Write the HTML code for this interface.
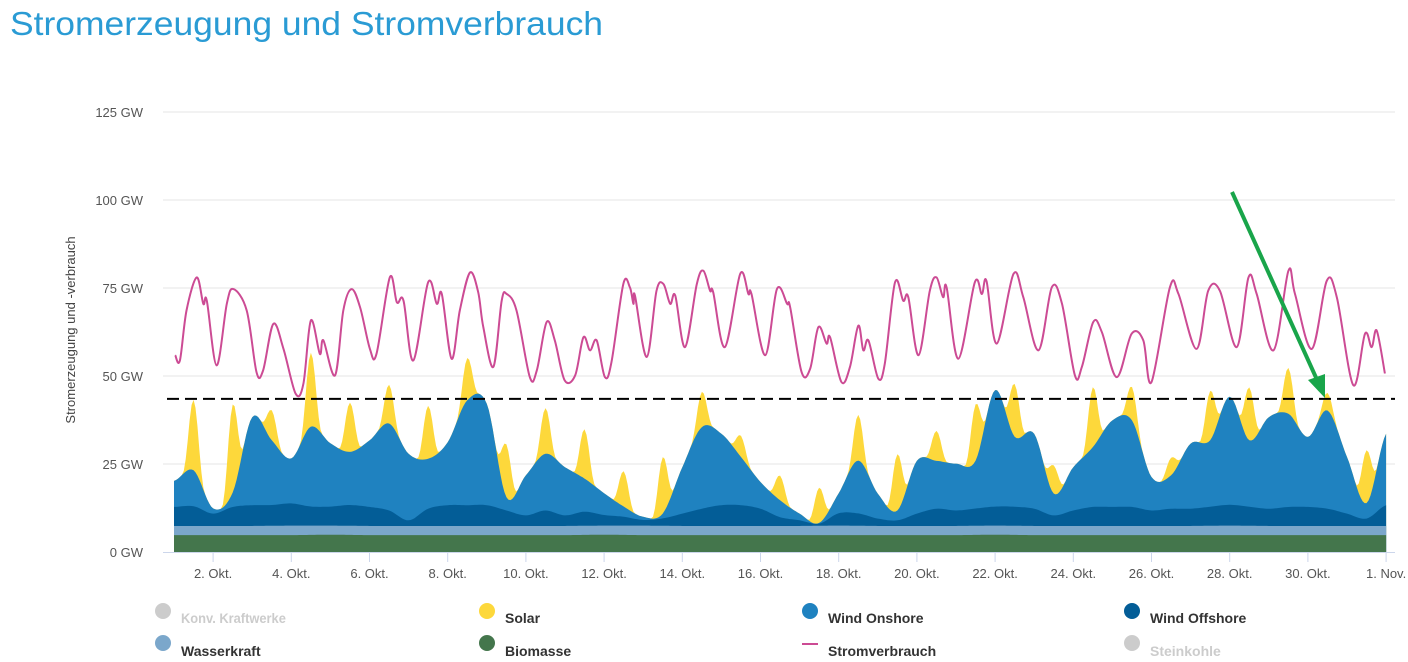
<!DOCTYPE html>
<html><head><meta charset="utf-8"><style>
html,body{margin:0;padding:0;background:#fff;}
svg{display:block;font-family:"Liberation Sans",Arial,sans-serif;}
</style></head><body>
<svg id="c" width="1408" height="662" viewBox="0 0 1408 662">
<text x="10" y="35" font-size="33" fill="#2a9bd4" textLength="593" lengthAdjust="spacingAndGlyphs">Stromerzeugung und Stromverbrauch</text>
<g id="grid"></g>
<g id="areas"></g>
<g id="lines"></g>
<g id="axes"></g>
<text transform="translate(75,330) rotate(-90)" text-anchor="middle" font-size="13" fill="#444">Stromerzeugung und -verbrauch</text>
<g>
<line x1="1232" y1="192" x2="1318" y2="382" stroke="#19a54a" stroke-width="4"/>
<polygon points="1325,398 1308,380 1325,374" fill="#19a54a"/>
</g>
<g id="legend">
<g><circle cx="163" cy="611" r="8" fill="#cccccc"/><text x="181" y="623" font-size="14" font-weight="bold" fill="#cccccc" transform="translate(181,0) scale(0.92,1) translate(-181,0)">Konv. Kraftwerke</text></g>
<g><circle cx="487" cy="611" r="8" fill="#fdd83b"/><text x="505" y="623" font-size="14" font-weight="bold" fill="#333">Solar</text></g>
<g><circle cx="810" cy="611" r="8" fill="#1f82c0"/><text x="828" y="623" font-size="14" font-weight="bold" fill="#333">Wind Onshore</text></g>
<g><circle cx="1132" cy="611" r="8" fill="#035d97"/><text x="1150" y="623" font-size="14" font-weight="bold" fill="#333">Wind Offshore</text></g>
<g><circle cx="163" cy="643" r="8" fill="#7ba7cb"/><text x="181" y="656" font-size="14" font-weight="bold" fill="#333">Wasserkraft</text></g>
<g><circle cx="487" cy="643" r="8" fill="#44764c"/><text x="505" y="656" font-size="14" font-weight="bold" fill="#333">Biomasse</text></g>
<g><line x1="802" y1="644" x2="818" y2="644" stroke="#cc4b94" stroke-width="2"/><text x="828" y="656" font-size="14" font-weight="bold" fill="#333">Stromverbrauch</text></g>
<g><circle cx="1132" cy="643" r="8" fill="#cccccc"/><text x="1150" y="656" font-size="14" font-weight="bold" fill="#cccccc">Steinkohle</text></g>
</g>
</svg>
<script>
// y ticks
const yTicks = [0, 25, 50, 75, 100, 125];
const yTickLabels = ["0 GW", "25 GW", "50 GW", "75 GW", "100 GW", "125 GW"];
// x ticks (day offsets from 1 Oct 00:00)
const xTicks = [1, 3, 5, 7, 9, 11, 13, 15, 17, 19, 21, 23, 25, 27, 29, 31];
const xTickLabels = ["2. Okt.", "4. Okt.", "6. Okt.", "8. Okt.", "10. Okt.", "12. Okt.", "14. Okt.", "16. Okt.", "18. Okt.", "20. Okt.", "22. Okt.", "24. Okt.", "26. Okt.", "28. Okt.", "30. Okt.", "1. Nov."];
const thresholdGW = 43.5;
// daily values (32 points, day 0..31)
const biomass = [4.8,4.8,4.8,4.8,4.9,4.8,4.8,4.8,4.8,4.8,4.8,4.9,4.8,4.8,4.8,4.8,4.8,4.8,4.8,4.8,4.8,4.9,4.8,4.8,4.8,4.8,4.8,4.8,4.8,4.8,4.8,4.8];
const water = [2.6,2.6,2.6,2.7,2.6,2.6,2.6,2.6,2.6,2.6,2.6,2.6,2.7,2.6,2.6,2.6,2.6,2.7,2.6,2.6,2.6,2.6,2.6,2.6,2.6,2.6,2.6,2.7,2.6,2.6,2.6,2.6];
// half-day values (63 points, t = 0, 0.5, ..., 31)
const windOffshore = [5.4,5.6,3.5,5.4,5.9,5.9,6.3,5.4,5.4,5.9,5.4,4.4,1.6,4.9,5.9,5.9,5.9,4.4,3.0,4.4,3.0,4.0,
 3.0,2.5,1.6,2.1,3.5,4.9,5.9,5.9,4.9,2.5,1.6,0.6,3.5,3.5,2.1,1.6,3.5,4.9,4.4,4.9,5.4,
 5.4,4.9,3.0,4.4,5.4,5.4,5.4,4.4,4.9,4.9,5.4,5.9,5.4,4.9,5.4,5.4,4.9,3.5,2.1,5.9];
const windOnshore = [7.4,10.2,1.5,4.1,25,18.4,12.8,22.7,18,15.1,18.9,24.7,18.9,14.2,17.9,29.8,28.8,3.8,11.4,16.1,13.7,9.4,
 6.2,2.9,0.9,1.4,13.2,23.2,20.3,13.7,7.6,4.8,1.9,0.2,5.7,15,7.1,2.8,15,13.6,13.3,13.6,33.1,
 19.9,21.3,6.2,12.3,17,24.6,24.6,9.5,9.5,18.5,18.9,30.7,18.9,26,26.5,19.9,27.9,16.1,4.4,20.3];
// daily solar peak (31 days)
const solarPeak = [20,25,8.5,21,14,11,15,12,15,13,14,10,16,10,6,7,10,13,16,8.5,16,15,8,17,9.5,5,14,15,13,5,15];
// consumption key points: time (days since 1 Oct) and GW
const consTime = [0.03,0.15,0.32,0.58,0.75,0.84,1.09,1.35,1.52,1.86,2.11,2.28,2.54,2.80,3.11,3.31,3.50,3.73,3.82,4.12,4.33,4.54,4.76,5.01,5.18,5.52,5.70,5.87,6.12,6.50,6.72,6.85,7.10,7.31,7.57,7.78,7.91,8.17,8.38,8.51,8.76,9.10,9.28,9.53,9.74,9.99,10.26,10.47,10.64,10.81,11.02,11.19,11.49,11.66,11.75,11.79,12.09,12.34,12.52,12.69,12.82,13.07,13.37,13.54,13.71,13.79,14.09,14.48,14.69,14.77,15.12,15.42,15.68,15.76,16.05,16.27,16.48,16.69,16.78,17.07,17.29,17.50,17.63,17.76,18.01,18.18,18.44,18.65,18.78,19.04,19.33,19.50,19.67,19.76,20.06,20.48,20.66,20.78,21.04,21.47,21.72,22.11,22.45,22.71,23.04,23.22,23.51,23.73,24.11,24.49,24.79,25.00,25.47,25.69,26.15,26.45,26.75,27.18,27.48,27.69,28.12,28.50,28.67,29.10,29.48,29.74,30.16,30.46,30.63,30.76,30.97];
const consGW = [55.9,54.4,68.6,78,70.5,71.4,53,70.5,74.7,68.6,51.1,51.6,64.8,57.7,45,47.8,65.8,56.3,60.1,50.2,68.6,74.7,69.5,57.7,56.3,78,70.9,71.4,54.4,76.6,70.5,73.3,54.9,68.6,79.4,73.8,63.9,52.6,71.4,73.3,68.6,49.7,51.6,65.3,60.1,48.8,50.2,61,57.3,60.1,49.7,54,76.1,75.2,70.5,72.8,55.4,74.2,76.1,70.5,72.8,58.2,76.1,79.9,74.2,73.8,58.2,79,73.3,73.3,55.9,74.7,70.5,69.5,51.1,52.1,63.9,59.2,61,48.3,52.6,64.3,57.3,60.1,49.3,53.5,76.6,71.4,72.4,55.9,74.2,78,72.4,75.2,54.9,76.6,73.3,77,59.2,79,72.4,57.3,75.2,70.5,50.2,52.6,65.3,62.5,49.7,62,60.1,48.3,75.2,73.3,57.7,74.2,74.2,58.2,78,73.3,57.3,79.9,73.3,57.7,77,72.4,47.4,62,58.2,62.9,50.7];

const NS = "http://www.w3.org/2000/svg";
const X0 = 174, DAY = 39.1, Y0 = 552, PX_GW = 3.52;
function xs(t){ return X0 + t * DAY; }
function ys(v){ return Y0 - v * PX_GW; }
function mk(tag, attrs, parent){ const e = document.createElementNS(NS, tag); for (const k in attrs) e.setAttribute(k, attrs[k]); parent.appendChild(e); return e; }
function cr(arr, u){
  const n = arr.length; let i = Math.floor(u); if (i >= n - 1) return arr[n-1]; if (i < 0) return arr[0];
  const f = u - i, p0 = arr[Math.max(0,i-1)], p1 = arr[i], p2 = arr[i+1], p3 = arr[Math.min(n-1,i+2)];
  return 0.5*((2*p1)+(-p0+p2)*f+(2*p0-5*p1+4*p2-p3)*f*f+(-p0+3*p1-3*p2+p3)*f*f*f);
}
function solarAt(t){
  const d = Math.floor(t); if (d < 0 || d >= solarPeak.length) return 0;
  const f = t - d - 0.5; const hw = 0.3; if (Math.abs(f) >= hw) return 0;
  const c = Math.cos(f / hw * Math.PI / 2); return solarPeak[d] * Math.pow(c, 2.5);
}
const grid = document.getElementById('grid');
const axes = document.getElementById('axes');
yTicks.forEach((v, i) => {
  if (v > 0) {
    const gl = mk('line', {x1:163, x2:1395, y1:ys(v), y2:ys(v), stroke:'#e6e6e6', 'stroke-width':1}, grid);
    
    
  }
  const tl = mk('text', {x:143, y:ys(v)+5, 'text-anchor':'end', 'font-size':13, fill:'#555'}, axes);
  tl.textContent = yTickLabels[i];
  
  
});
const axl = mk('line', {x1:163, x2:1395, y1:Y0+0.5, y2:Y0+0.5, stroke:'#ccd6eb', 'stroke-width':1}, axes);


xTicks.forEach((t, i) => {
  const tk = mk('line', {x1:xs(t), x2:xs(t), y1:Y0, y2:Y0+10, stroke:'#ccd6eb'}, axes);
  
  
  const tl = mk('text', {x:xs(t), y:578, 'text-anchor':'middle', 'font-size':13, fill:'#555'}, axes);
  tl.textContent = xTickLabels[i];
  
  
});
const areas = document.getElementById('areas');
const ts = []; for (let k = 0; k <= 620; k++) ts.push(k * 0.05);
const cum = [[],[],[],[],[]];
ts.forEach(t => {
  const b = cr(biomass, t), w = cr(water, t);
  const off = Math.max(0, cr(windOffshore, t*2)), on = Math.max(0, cr(windOnshore, t*2)), s = solarAt(t);
  cum[0].push(b); cum[1].push(b+w); cum[2].push(b+w+off); cum[3].push(b+w+off+on); cum[4].push(b+w+off+on+s);
});
const layerColors = ['#44764c','#7ba7cb','#035d97','#1f82c0','#fdd83b'];
const layerNames = ['area-biomasse','area-wasserkraft','area-wind-offshore','area-wind-onshore','area-solar'];
for (let L = 4; L >= 0; L--) {
  let d = 'M' + xs(ts[0]) + ',' + Y0;
  ts.forEach((t, k) => { d += 'L' + xs(t).toFixed(1) + ',' + ys(cum[L][k]).toFixed(1); });
  d += 'L' + xs(ts[ts.length-1]) + ',' + Y0 + 'Z';
  const p = mk('path', {d:d, fill:layerColors[L]}, areas);
  
  
}
const lines = document.getElementById('lines');
const dl = mk('line', {x1:167, x2:1395, y1:ys(thresholdGW), y2:ys(thresholdGW), stroke:'#000', 'stroke-width':2, 'stroke-dasharray':'12,6'}, lines);


const P = consTime.map((t, i) => [xs(t), ys(consGW[i])]);
let cd = 'M' + P[0][0].toFixed(1) + ',' + P[0][1].toFixed(1);
for (let i = 0; i < P.length - 1; i++) {
  const p0 = P[Math.max(0,i-1)], p1 = P[i], p2 = P[i+1], p3 = P[Math.min(P.length-1,i+2)];
  const c1x = p1[0] + (p2[0]-p0[0])/6, c1y = p1[1] + (p2[1]-p0[1])/6;
  const c2x = p2[0] - (p3[0]-p1[0])/6, c2y = p2[1] - (p3[1]-p1[1])/6;
  cd += 'C' + c1x.toFixed(1)+','+c1y.toFixed(1)+' '+c2x.toFixed(1)+','+c2y.toFixed(1)+' '+p2[0].toFixed(1)+','+p2[1].toFixed(1);
}
const cl = mk('path', {d:cd, fill:'none', stroke:'#cc4b94', 'stroke-width':2, 'stroke-linejoin':'round'}, lines);


</script>
</body></html>
